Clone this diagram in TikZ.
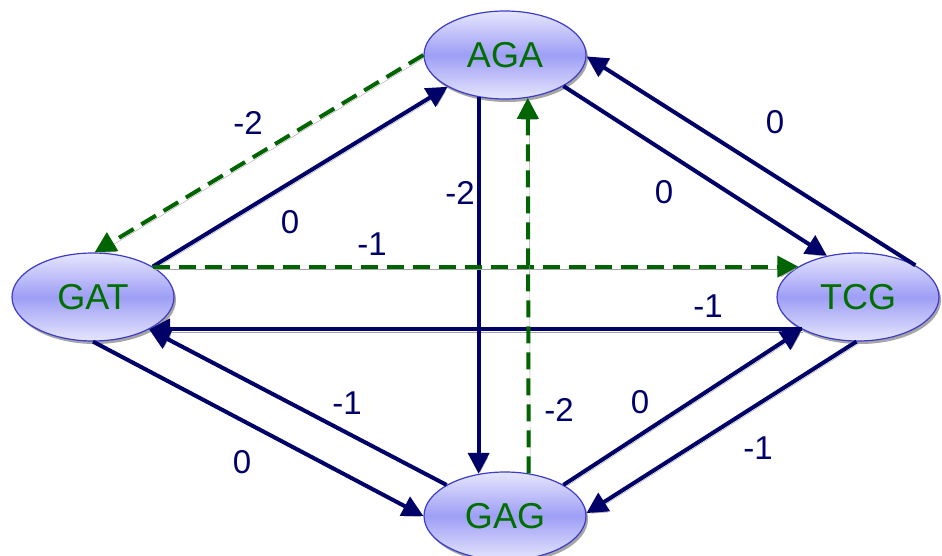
\documentclass[tikz,border=0pt]{standalone}
\usepackage{fontspec}
\setmainfont{Liberation Sans}
\usetikzlibrary{arrows.meta,shadows,shapes.geometric}
\definecolor{navyc}{RGB}{0,0,105}
\definecolor{greenc}{RGB}{0,100,0}
\definecolor{txtgreen}{RGB}{0,110,0}
\definecolor{ellborder}{RGB}{60,60,200}
\definecolor{elltop}{RGB}{230,230,253}
\definecolor{ellmid}{RGB}{158,158,246}
\definecolor{shadowc}{RGB}{165,165,165}
\begin{document}
\begin{tikzpicture}[x=1pt,y=-1pt,
 state/.style={ellipse, draw=ellborder, line width=1.2pt, minimum width=162pt, minimum height=88pt, inner sep=0pt,
   top color=elltop, bottom color=elltop, middle color=ellmid,
   drop shadow={shadow xshift=2pt, shadow yshift=-3pt, fill=shadowc, opacity=1},
   text=txtgreen, font=\fontsize{36}{40}\selectfont},
 solidedge/.style={draw=navyc, line width=4pt, -{Triangle[length=21pt,width=21pt]},
   preaction={draw=shadowc, transform canvas={xshift=1.5pt, yshift=-2.5pt}}},
 dashedge/.style={solidedge, draw=greenc, dash pattern=on 17pt off 9pt},
 wlabel/.style={text=navyc, font=\fontsize{33}{36}\selectfont, inner sep=0pt}
]
\useasboundingbox (0,0) rectangle (942,556);

\node[state] (AGA) at (505,55) {AGA};
\node[state] (GAT) at (93,297) {GAT};
\node[state] (TCG) at (858,297) {TCG};
\node[state] (GAG) at (505,516) {GAG};

% solid navy edges
\draw[solidedge] (GAT.27) -- (AGA.209);
\draw[solidedge] (TCG.210) -- (GAT.330);
\draw[solidedge] (AGA.238) -- (GAG.122);
\draw[solidedge] (AGA.332) -- (TCG.127);
\draw[solidedge] (TCG.29) -- (AGA.359);
\draw[solidedge] (GAT.270) -- (GAG.180);
\draw[solidedge] (GAG.152) -- (GAT.330);
\draw[solidedge] (GAG.28.5) -- (TCG.210);
\draw[solidedge] (TCG.268) -- (GAG.2);

% green dashed edges
\draw[dashedge] (AGA.180) -- (GAT.88);
\draw[dashedge] (GAT.27) -- (TCG.153);
\draw[dashedge] (GAG.61.4) -- (AGA.298.6);

% weights
\node[wlabel] (w1) at (290,222) {0};
\node[wlabel] (w2) at (248,123) {-2};
\node[wlabel] (w3) at (372,244) {-1};
\node[wlabel] (w4) at (708,306) {-1};
\node[wlabel] (w5) at (460,193) {-2};
\node[wlabel] (w6) at (559,410) {-2};
\node[wlabel] (w7) at (664,192) {0};
\node[wlabel] (w8) at (775,122) {0};
\node[wlabel] (w9) at (242,462) {0};
\node[wlabel] (w10) at (347,403) {-1};
\node[wlabel] (w11) at (640,402) {0};
\node[wlabel] (w12) at (758,448) {-1};
\end{tikzpicture}
\end{document}
